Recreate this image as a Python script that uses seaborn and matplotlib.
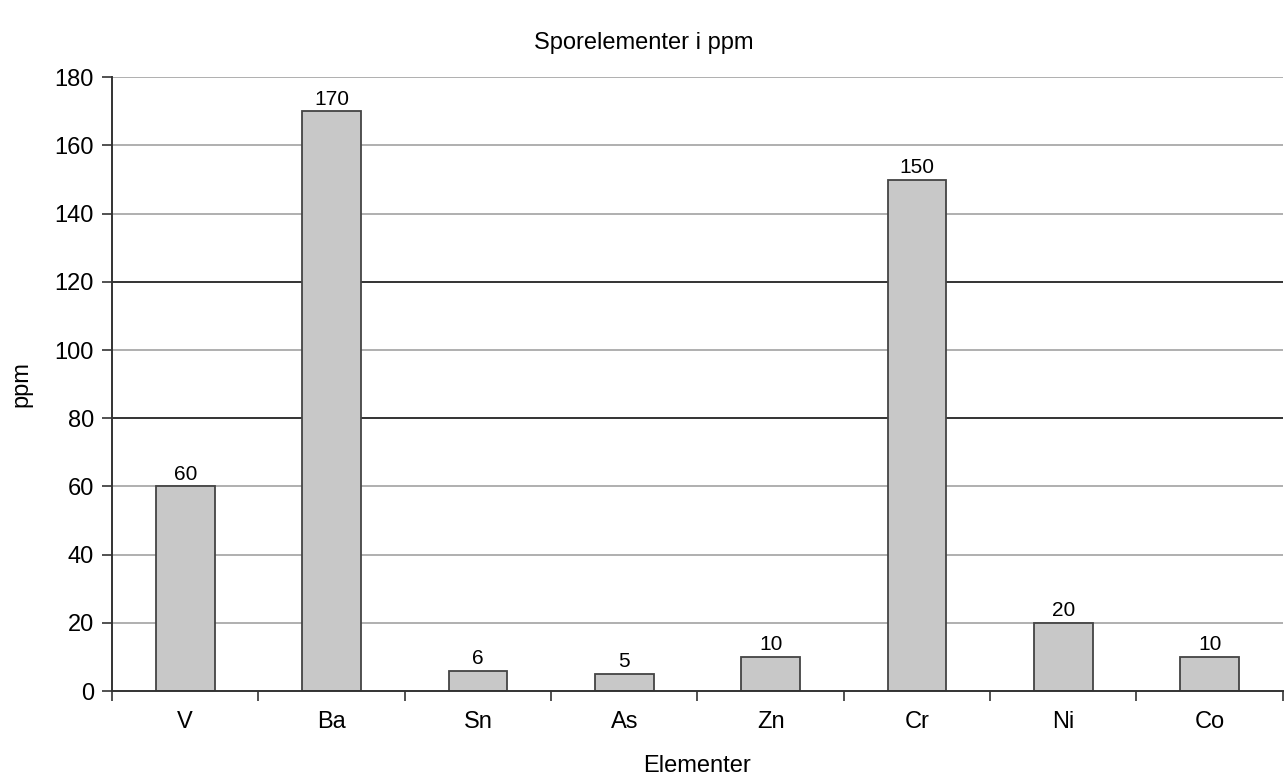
import numpy as np
import pandas as pd
import seaborn as sns
import matplotlib.pyplot as plt

sns.set_style("white")
plt.rcParams['font.family'] = ['Liberation Sans', 'DejaVu Sans']
plt.rcParams['text.color'] = 'black'
plt.rcParams['axes.labelcolor'] = 'black'
plt.rcParams['xtick.color'] = 'black'
plt.rcParams['ytick.color'] = 'black'

elements = ["V", "Ba", "Sn", "As", "Zn", "Cr", "Ni", "Co"]
ppm = [60, 170, 6, 5, 10, 150, 20, 10]
dark_grid = [80, 120]

df = pd.DataFrame({"element": elements, "ppm": ppm})

fig = plt.figure(figsize=(12.88, 7.8), dpi=100)
ax = fig.add_axes([0.087, 0.114, 0.909, 0.787])

# gridlines, two of them darker like in the scan
for y in range(20, 181, 20):
    c = '#333333' if y in dark_grid else '#9a9a9a'
    ax.axhline(y, color=c, lw=1.4 if y in dark_grid else 1.1, zorder=0)

sns.barplot(data=df, x="element", y="ppm", color='#c8c8c8', width=0.4,
            edgecolor='#444444', linewidth=1.3, saturation=1, ax=ax, zorder=2)

for i, v in enumerate(ppm):
    ax.text(i, v + 0.8, str(v), ha='center', va='bottom', fontsize=15)

ax.set_ylim(0, 180)
ax.set_xlim(-0.5, len(elements) - 0.5)
ax.set_yticks(range(0, 181, 20))
ax.tick_params(axis='y', labelsize=17, length=7, width=1.2, color='#333333', direction='out', left=True, pad=6)
ax.tick_params(axis='x', labelsize=17, length=0, pad=14)
# tick marks between categories
ax.set_xticks(np.arange(-0.5, len(elements), 1), minor=True)
ax.tick_params(axis='x', which='minor', length=7, width=1.2, color='#333333', direction='out', bottom=True)

for s in ['top', 'right']:
    ax.spines[s].set_visible(False)
for s in ['left', 'bottom']:
    ax.spines[s].set_color('#333333')
    ax.spines[s].set_linewidth(1.4)

ax.set_xlabel("Elementer", fontsize=17, labelpad=16)
ax.set_ylabel("ppm", fontsize=17, labelpad=16)
fig.text(0.5, 0.945, "Sporelementer i ppm", ha='center', va='center', fontsize=17)

plt.savefig("out.png", dpi=100)
